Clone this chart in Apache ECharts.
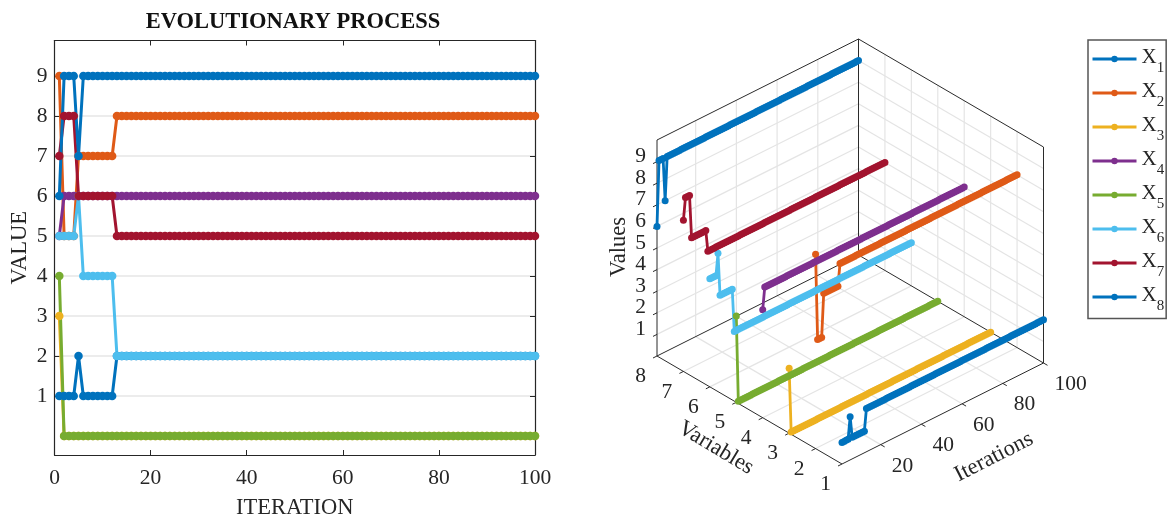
<!DOCTYPE html>
<html><head><meta charset="utf-8">
<style>html,body{margin:0;padding:0;background:#fff}#c{width:1167px;height:519px}</style>
<script src="https://cdn.jsdelivr.net/npm/echarts@6/dist/echarts.min.js"></script>
</head><body><div id="c"></div>
<script>
const X1=[1,1,1,1,2,1,1,1,1,1, 1,1,2,2,2,2,2,2,2,2, 2,2,2,2,2,2,2,2,2,2, 2,2,2,2,2,2,2,2,2,2, 2,2,2,2,2,2,2,2,2,2, 2,2,2,2,2,2,2,2,2,2, 2,2,2,2,2,2,2,2,2,2, 2,2,2,2,2,2,2,2,2,2, 2,2,2,2,2,2,2,2,2,2, 2,2,2,2,2,2,2,2,2,2];
const X2=[9,5,5,5,7,7,7,7,7,7, 7,7,8,8,8,8,8,8,8,8, 8,8,8,8,8,8,8,8,8,8, 8,8,8,8,8,8,8,8,8,8, 8,8,8,8,8,8,8,8,8,8, 8,8,8,8,8,8,8,8,8,8, 8,8,8,8,8,8,8,8,8,8, 8,8,8,8,8,8,8,8,8,8, 8,8,8,8,8,8,8,8,8,8, 8,8,8,8,8,8,8,8,8,8];
const X3=[3,0,0,0,0,0,0,0,0,0, 0,0,0,0,0,0,0,0,0,0, 0,0,0,0,0,0,0,0,0,0, 0,0,0,0,0,0,0,0,0,0, 0,0,0,0,0,0,0,0,0,0, 0,0,0,0,0,0,0,0,0,0, 0,0,0,0,0,0,0,0,0,0, 0,0,0,0,0,0,0,0,0,0, 0,0,0,0,0,0,0,0,0,0, 0,0,0,0,0,0,0,0,0,0];
const X4=[5,6,6,6,6,6,6,6,6,6, 6,6,6,6,6,6,6,6,6,6, 6,6,6,6,6,6,6,6,6,6, 6,6,6,6,6,6,6,6,6,6, 6,6,6,6,6,6,6,6,6,6, 6,6,6,6,6,6,6,6,6,6, 6,6,6,6,6,6,6,6,6,6, 6,6,6,6,6,6,6,6,6,6, 6,6,6,6,6,6,6,6,6,6, 6,6,6,6,6,6,6,6,6,6];
const X5=[4,0,0,0,0,0,0,0,0,0, 0,0,0,0,0,0,0,0,0,0, 0,0,0,0,0,0,0,0,0,0, 0,0,0,0,0,0,0,0,0,0, 0,0,0,0,0,0,0,0,0,0, 0,0,0,0,0,0,0,0,0,0, 0,0,0,0,0,0,0,0,0,0, 0,0,0,0,0,0,0,0,0,0, 0,0,0,0,0,0,0,0,0,0, 0,0,0,0,0,0,0,0,0,0];
const X6=[5,5,5,5,6,4,4,4,4,4, 4,4,2,2,2,2,2,2,2,2, 2,2,2,2,2,2,2,2,2,2, 2,2,2,2,2,2,2,2,2,2, 2,2,2,2,2,2,2,2,2,2, 2,2,2,2,2,2,2,2,2,2, 2,2,2,2,2,2,2,2,2,2, 2,2,2,2,2,2,2,2,2,2, 2,2,2,2,2,2,2,2,2,2, 2,2,2,2,2,2,2,2,2,2];
const X7=[7,8,8,8,6,6,6,6,6,6, 6,6,5,5,5,5,5,5,5,5, 5,5,5,5,5,5,5,5,5,5, 5,5,5,5,5,5,5,5,5,5, 5,5,5,5,5,5,5,5,5,5, 5,5,5,5,5,5,5,5,5,5, 5,5,5,5,5,5,5,5,5,5, 5,5,5,5,5,5,5,5,5,5, 5,5,5,5,5,5,5,5,5,5, 5,5,5,5,5,5,5,5,5,5];
const X8=[6,9,9,9,7,9,9,9,9,9, 9,9,9,9,9,9,9,9,9,9, 9,9,9,9,9,9,9,9,9,9, 9,9,9,9,9,9,9,9,9,9, 9,9,9,9,9,9,9,9,9,9, 9,9,9,9,9,9,9,9,9,9, 9,9,9,9,9,9,9,9,9,9, 9,9,9,9,9,9,9,9,9,9, 9,9,9,9,9,9,9,9,9,9, 9,9,9,9,9,9,9,9,9,9];
const seriesValues=[X1,X2,X3,X4,X5,X6,X7,X8];
const seriesNames=['X1','X2','X3','X4','X5','X6','X7','X8'];
const colors=['#0072BD','#DF5A17','#EDB120','#7E2F8E','#77AC30','#4DBEEE','#A2142F','#0072BD'];
const valueTicks=[1,2,3,4,5,6,7,8,9];
const iterTicks=[20,40,60,80,100];
const varTicks=[1,2,3,4,5,6,7,8];

const FONT='"Liberation Serif"', INK='#262626';

// 3-D view: floor front corner and unit vectors of the view, in the hidden 1:1 plane
const O=[842,464], U=[201.5/99,-101/99], V=[-185/7,-108/7], W=21.6;
const ITER0=1, ITER1=100, VAR0=1, VAR1=8, VAL0=0, VAL1=10;
function P(it,vr,vl){return [O[0]+(it-ITER0)*U[0]+(vr-VAR0)*V[0], O[1]+(it-ITER0)*U[1]+(vr-VAR0)*V[1]-vl*W];}

const gridSeg=[], boxSeg=[], labels=[];
function seg(list,a,b){list.push([a[0],a[1],b[0],b[1]]);}
// grid lines
iterTicks.filter(t=>t<ITER1).forEach(t=>{
  seg(gridSeg,P(t,VAR0,VAL0),P(t,VAR1,VAL0));
  seg(gridSeg,P(t,VAR1,VAL0),P(t,VAR1,VAL1));
});
varTicks.filter(t=>t>VAR0&&t<VAR1).forEach(t=>{
  seg(gridSeg,P(ITER0,t,VAL0),P(ITER1,t,VAL0));
  seg(gridSeg,P(ITER1,t,VAL0),P(ITER1,t,VAL1));
});
valueTicks.forEach(t=>{
  seg(gridSeg,P(ITER0,VAR1,t),P(ITER1,VAR1,t));
  seg(gridSeg,P(ITER1,VAR1,t),P(ITER1,VAR0,t));
});
// box
seg(boxSeg,P(ITER0,VAR1,VAL0),P(ITER0,VAR1,VAL1));
seg(boxSeg,P(ITER0,VAR1,VAL1),P(ITER1,VAR1,VAL1));
seg(boxSeg,P(ITER1,VAR1,VAL1),P(ITER1,VAR0,VAL1));
seg(boxSeg,P(ITER1,VAR0,VAL1),P(ITER1,VAR0,VAL0));
seg(boxSeg,P(ITER1,VAR1,VAL0),P(ITER1,VAR1,VAL1));
seg(boxSeg,P(ITER0,VAR1,VAL0),P(ITER1,VAR1,VAL0));
seg(boxSeg,P(ITER1,VAR1,VAL0),P(ITER1,VAR0,VAL0));
seg(boxSeg,P(ITER0,VAR1,VAL0),P(ITER0,VAR0,VAL0));
seg(boxSeg,P(ITER0,VAR0,VAL0),P(ITER1,VAR0,VAL0));
// ticks + labels
valueTicks.forEach(t=>{const p=P(ITER0,VAR1,t);seg(boxSeg,p,[p[0]-4,p[1]+2]);
  labels.push([p[0]-16.5,p[1]-5,String(t),'center',0,21.5]);});
varTicks.forEach(t=>{const p=P(ITER0,t,VAL0);seg(boxSeg,p,[p[0]-4,p[1]+2]);
  labels.push([p[0]-16.5,p[1]+20.5,String(t),'center',0,21.5]);});
iterTicks.forEach(t=>{const p=P(t,VAR0,VAL0);seg(boxSeg,p,[p[0]+4,p[1]+2.3]);
  labels.push([p[0]+11,p[1]+21.3,String(t),'left',0,21.5]);});
labels.push([619,247,'Values','center',90,22.5]);
labels.push([716,448,'Variables','center',-31,22.5]);
labels.push([994,457,'Iterations','center',27,22.5]);

function segSeries(data,color,width,z){
  return {type:'custom',xAxisIndex:2,yAxisIndex:2,silent:true,clip:false,z,data,
    renderItem(params,api){
      const a=api.coord([api.value(0),api.value(1)]),b=api.coord([api.value(2),api.value(3)]);
      return {type:'line',shape:{x1:a[0],y1:a[1],x2:b[0],y2:b[1]},style:{stroke:color,lineWidth:width,fill:null}};
    }};
}
const labelSeries={type:'custom',xAxisIndex:2,yAxisIndex:2,silent:true,clip:false,z:10,
  data:labels.map(l=>[l[0],l[1]]),
  renderItem(params,api){
    const d=labels[params.dataIndex],a=api.coord([d[0],d[1]]);
    return {type:'text',x:a[0],y:a[1],rotation:d[4]*Math.PI/180,
      style:{text:d[2],fill:INK,font:d[5]+'px '+FONT,align:d[3],verticalAlign:'middle'}};
  }};

const series=[];
seriesValues.forEach((vals,i)=>{
  series.push({name:seriesNames[i],type:'line',xAxisIndex:2,yAxisIndex:2,clip:false,silent:true,z:5,
    showAllSymbol:true,symbol:'circle',symbolSize:7,animation:false,
    lineStyle:{width:2.8,color:colors[i]},itemStyle:{color:colors[i]},
    data:vals.map((v,k)=>P(k+1,i+1,v))});
});
seriesValues.forEach((vals,i)=>{
  series.push({name:seriesNames[i],type:'line',xAxisIndex:0,yAxisIndex:0,clip:false,silent:true,z:5,
    showAllSymbol:true,symbol:'circle',symbolSize:8.5,animation:false,
    lineStyle:{width:3,color:colors[i]},itemStyle:{color:colors[i]},
    data:vals.map((v,k)=>[k+1,v])});
});
series.push(segSeries(gridSeg,'#e4e4e4',1.2,1));
series.push(segSeries(boxSeg,'#2b2b2b',1,2));
series.push(labelSeries);

const tickStyle={color:INK,fontFamily:FONT,fontSize:21.5};
const nameStyle={color:INK,fontFamily:FONT,fontSize:22.5};
const axisLine={show:true,onZero:false,lineStyle:{color:'#262626',width:1.2}};
const chart=echarts.init(document.getElementById('c'),null,{renderer:'canvas'});
chart.setOption({
  animation:false,backgroundColor:'#fff',
  title:{text:'EVOLUTIONARY PROCESS',left:288,top:6,textAlign:'center',
    textStyle:{fontFamily:FONT,fontSize:22.5,fontWeight:'bold',color:'#111'}},
  legend:{data:seriesNames,orient:'vertical',left:1088,top:40,selectedMode:false,
    itemWidth:44,itemHeight:8,itemGap:5,padding:[6.5,2,5,3],
    lineStyle:{width:3},
    borderColor:'#555',borderWidth:1.5,backgroundColor:'#fff',
    formatter:n=>'{x|X}{s|'+n.slice(1)+'}',
    textStyle:{fontFamily:FONT,fontSize:21,color:INK,
      rich:{x:{fontFamily:FONT,fontSize:21,color:INK,padding:[0,0,4,0]},
            s:{fontFamily:FONT,fontSize:15,color:INK,padding:[18,0,0,0]}}}},
  grid:[
    {left:54.5,top:40.5,width:480.5,height:414.5,containLabel:false,outerBoundsMode:'none'},
    {left:54.5,top:40.5,width:480.5,height:414.5,containLabel:false,outerBoundsMode:'none'},
    {left:0,top:0,width:1167,height:519,containLabel:false,outerBoundsMode:'none'}
  ],
  xAxis:[
    {type:'value',gridIndex:0,min:0,max:100,interval:20,position:'bottom',
     name:'ITERATION',nameLocation:'middle',nameGap:42,nameTextStyle:nameStyle,
     axisLine,axisTick:{inside:true,length:5,lineStyle:{color:'#262626'}},
     axisLabel:{...tickStyle,margin:12},splitLine:{show:false}},
    {type:'value',gridIndex:1,min:0,max:100,interval:20,position:'top',
     axisLine,axisTick:{inside:true,length:5,lineStyle:{color:'#262626'}},axisLabel:{show:false},splitLine:{show:false}},
    {type:'value',gridIndex:2,min:0,max:1167,show:false}
  ],
  yAxis:[
    {type:'value',gridIndex:0,min:-0.475,max:9.887,position:'left',
     name:'VALUE',nameLocation:'middle',nameGap:23,nameTextStyle:nameStyle,
     axisLine,axisTick:{inside:true,length:5,customValues:valueTicks,lineStyle:{color:'#262626'}},
     axisLabel:{...tickStyle,margin:7,customValues:valueTicks},
     splitLine:{show:true,lineStyle:{color:'#e6e6e6',width:1.6}}},
    {type:'value',gridIndex:1,min:-0.475,max:9.887,position:'right',
     axisLine,axisTick:{inside:true,length:5,customValues:valueTicks,lineStyle:{color:'#262626'}},
     axisLabel:{show:false,customValues:valueTicks},splitLine:{show:false}},
    {type:'value',gridIndex:2,min:0,max:519,inverse:true,show:false}
  ],
  series
});
</script></body></html>
